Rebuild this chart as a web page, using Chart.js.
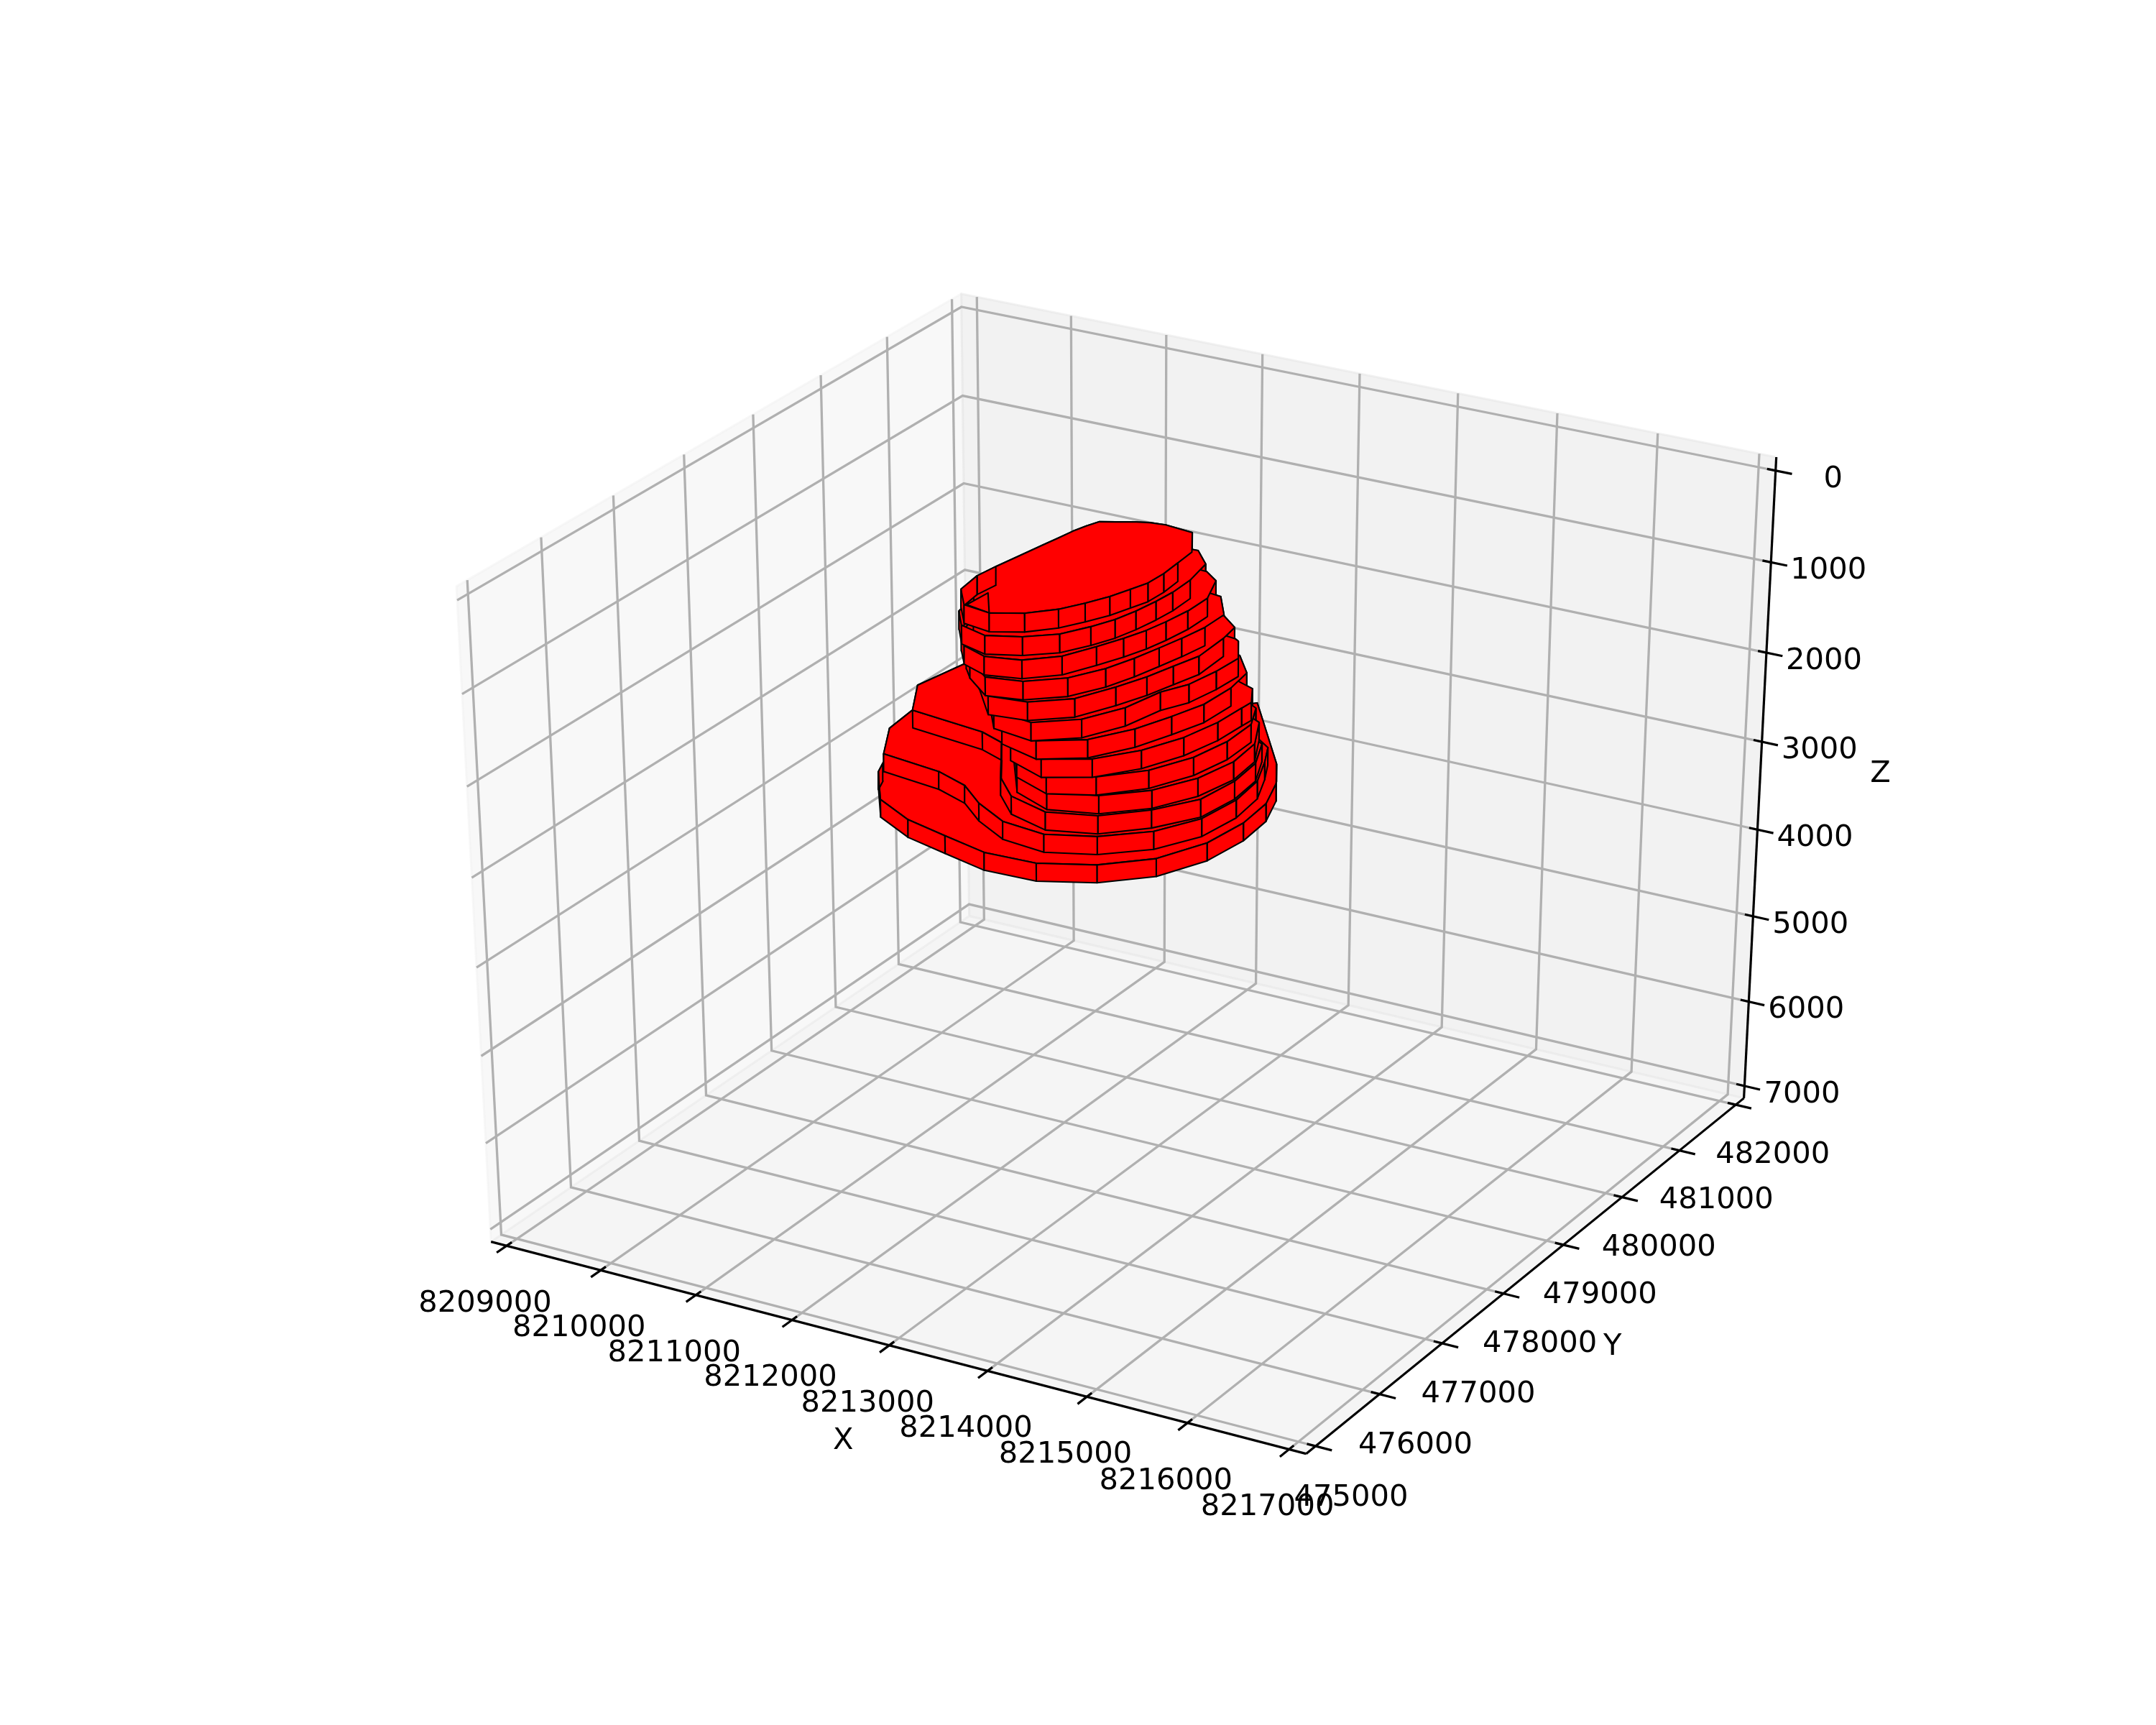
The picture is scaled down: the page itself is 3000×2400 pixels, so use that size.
<!DOCTYPE html>
<html>
<head>
<meta charset="utf-8">
<script src="https://cdn.jsdelivr.net/npm/chart.js@4"></script>
<style>html,body{margin:0;padding:0;background:#fff}canvas{display:block}</style>
</head>
<body>
<canvas id="c" width="3000" height="2400"></canvas>
<script>
var xTicks=[8209000,8210000,8211000,8212000,8213000,8214000,8215000,8216000,8217000];
var yTicks=[476000,477000,478000,479000,480000,481000,482000,483000];
var zTicks=[0,1000,2000,3000,4000,5000,6000,7000];
var xLabels=[8209000,8210000,8211000,8212000,8213000,8214000,8215000,8216000,8217000];
var yLabels=[475000,476000,477000,478000,479000,480000,481000,482000];
var zLabels=[0,1000,2000,3000,4000,5000,6000,7000];
var xLim=[8209000,8217000],yLim=[476000,483000],zLim=[7000,0];

// one outline per level, top of the level in ringTopZ
var ringTopZ=[1000,1250,1500,1750,2000,2250,2500,2750,3000,3250,3500,3750,4000];
var ringHeight=205;
var ring01X=[8211790,8212060,8212270,8212400,8212510,8212580,8212640,8212650,8212630,8212610,8212380,8212080,8211930,8211790,8211660,8211530,8211480,8211440,8211410,8211380,8211330,8211280,8211250,8211290,8211500];
var ring01Y=[479220,479350,479550,479760,479970,480180,480360,480590,480840,481090,481450,481490,481470,481420,481350,481290,481160,481010,480820,480650,480360,480070,479830,479530,479270];
var ring02X=[8211450,8211750,8212050,8212300,8212450,8212550,8212610,8212650,8212670,8212660,8212590,8212370,8212070,8211770,8211510,8211410,8211360,8211240,8211200,8211260];
var ring02Y=[479300,479210,479330,479520,479770,479990,480220,480470,480700,480990,481340,481560,481550,481450,481320,481040,480680,480130,479850,479540];
var ring03X=[8211440,8211720,8212050,8212310,8212460,8212570,8212650,8212700,8212740,8212740,8212600,8212420,8212110,8211780,8211500,8211390,8211330,8211220,8211180,8211260];
var ring03Y=[479350,479240,479320,479540,479840,480090,480320,480550,480830,481140,481490,481620,481650,481480,481340,481050,480690,480150,479870,479570];
var ring04X=[8211380,8211700,8212040,8212340,8212520,8212620,8212690,8212750,8212800,8212800,8212560,8212430,8212100,8211770,8211490,8211380,8211320,8211230,8211200,8211240];
var ring04Y=[479520,479280,479350,479580,479890,480180,480460,480720,481010,481310,481630,481650,481660,481490,481350,481070,480710,480180,479900,479670];
var ring05X=[8211310,8211680,8212050,8212370,8212550,8212670,8212750,8212830,8212810,8212770,8212550,8212180,8211760,8211510,8211390,8211320,8211230,8211190];
var ring05Y=[479760,479350,479400,479640,480000,480300,480590,480870,481290,481530,481700,481660,481510,481320,481050,480710,480290,480010];
var ring06X=[8211430,8211620,8212050,8212400,8212600,8212690,8212820,8212880,8212900,8212700,8212650,8212160,8211750,8211440,8211330,8211270,8211230,8211270];
var ring06Y=[479760,479520,479450,479700,480070,480480,480730,481070,481390,481700,481730,481810,481640,481410,481130,480790,480390,480070];
var ring07X=[8211600,8212040,8212420,8212660,8212800,8212910,8212930,8212880,8212620,8212170,8211750,8211430,8211280,8211230,8211230,8211420];
var ring07Y=[479670,479540,479760,480130,480490,480830,481230,481560,481850,481910,481740,481540,481210,480840,480490,479990];
var ring08X=[8211600,8212030,8212420,8212700,8212880,8212970,8212990,8213000,8212850,8212220,8211780,8211480,8211330,8211280,8211320,8211470];
var ring08Y=[479800,479630,479830,480170,480560,480960,481310,481450,481700,481950,481820,481580,481240,480870,480470,480030];
var ring09X=[8211580,8212000,8212400,8212730,8212930,8213010,8213000,8212850,8212290,8211820,8211490,8211340,8211290,8211330,8211470];
var ring09Y=[479920,479750,479920,480240,480640,481050,481450,481760,482080,481880,481680,481340,480970,480570,480140];
var ring10X=[8211100,8211500,8211930,8212380,8212730,8212950,8213040,8213000,8212790,8212270,8211840,8211500,8211350,8211290,8211340];
var ring10Y=[480580,480040,479860,479990,480290,480680,481110,481510,481910,482170,481950,481780,481440,481070,480670];
var ring11X=[8211450,8211900,8212350,8212700,8212960,8213020,8212980,8212810,8212300,8211730,8211060,8210330,8209720,8209480,8209370,8209640,8210460,8210740,8211150];
var ring11Y=[480020,479880,480020,480330,480710,481160,481560,481930,482190,482250,482340,482510,482730,482200,481610,481140,481030,480920,480300];
var ring12X=[8211420,8211890,8212330,8212710,8212940,8213000,8212950,8212790,8212650,8212060,8211700,8211340,8211030,8210710,8210390,8210070,8209790,8209560,8209440,8209380,8209380,8209370,8209410,8209680,8210330,8210700,8211020];
var ring12Y=[479930,479870,480040,480350,480760,481220,481640,482010,482280,482680,482760,482840,482850,482870,482890,482900,482850,482730,482500,482200,481850,481510,481110,480630,480540,480400,480150];
var ring13X=[8209940,8210400,8210880,8211380,8211910,8212400,8212790,8213010,8213070,8213030,8212880,8212660,8212050,8211790,8211560,8211190,8210850,8210480,8210180,8209800,8209600,8209410,8209320,8209330,8209520,8209590];
var ring13Y=[480200,479960,479830,479700,479720,479930,480270,480740,481230,481660,482060,482410,483140,483450,483210,483200,483120,483100,482960,482940,482660,482480,482160,481470,480840,480670];
var notchX=[8211520,8211540,8211790];
var notchY=[479280,479570,479220];
var ringX=[ring01X,ring02X,ring03X,ring04X,ring05X,ring06X,ring07X,ring08X,ring09X,ring10X,ring11X,ring12X,ring13X];
var ringY=[ring01Y,ring02Y,ring03Y,ring04Y,ring05Y,ring06Y,ring07Y,ring08Y,ring09Y,ring10Y,ring11Y,ring12Y,ring13Y];

// view of elev 30, azim -60, distance 10
var sx=[.866025,.5,0],sy=[-.25,.433013,.866025],sn=[.433013,-.75,.5];
function project(x,y,z){
  var a=(x-xLim[0])/(xLim[1]-xLim[0])-.5,b=(y-yLim[0])/(yLim[1]-yLim[0])-.5,c=(z-zLim[0])/(zLim[1]-zLim[0])-.5;
  var w=10-(sn[0]*a+sn[1]*b+sn[2]*c);
  return {x:(sx[0]*a+sx[1]*b)/w,y:(sy[0]*a+sy[1]*b+sy[2]*c)/w,w:w};
}

var xR=xLim[1]-xLim[0],yR=yLim[1]-yLim[0],zR=zLim[1]-zLim[0];
var xLo=xLim[0]-xR/48,xHi=xLim[1]+xR/48,yLo=yLim[0]-yR/48,yHi=yLim[1]+yR/48,zLo=zLim[0]-zR/48,zHi=zLim[1]+zR/48;

var layers=[];
function pts(list){return list.map(function(p){var q=project(p[0],p[1],p[2]);return {x:q.x,y:q.y};});}
function addLine(list,color,width){
  layers.push({data:pts(list),showLine:true,borderColor:color,borderWidth:width,pointRadius:0,fill:false,borderCapStyle:'butt',borderJoinStyle:'miter'});
}
function addFace(list,fillColor,edgeColor,width){
  layers.push({data:pts(list.concat([list[0]])),showLine:true,borderColor:edgeColor,borderWidth:width,backgroundColor:fillColor,pointRadius:0,fill:'shape',borderJoinStyle:'round'});
}
// panes
addFace([[xLo,yLo,zLo],[xLo,yHi,zLo],[xLo,yHi,zHi],[xLo,yLo,zHi]],'rgba(242,242,242,.5)','rgba(242,242,242,.5)',3);
addFace([[xLo,yHi,zLo],[xHi,yHi,zLo],[xHi,yHi,zHi],[xLo,yHi,zHi]],'rgba(230,230,230,.5)','rgba(230,230,230,.5)',3);
addFace([[xLo,yLo,zLo],[xHi,yLo,zLo],[xHi,yHi,zLo],[xLo,yHi,zLo]],'rgba(236,236,236,.5)','rgba(236,236,236,.5)',3);
// grid
var gridColor='#b0b0b0',gridW=3.3;
xTicks.forEach(function(t){addLine([[t,yLo,zLo],[t,yHi,zLo],[t,yHi,zHi]],gridColor,gridW);});
yTicks.forEach(function(t){addLine([[xHi,t,zLo],[xLo,t,zLo],[xLo,t,zHi]],gridColor,gridW);});
zTicks.forEach(function(t){addLine([[xLo,yLo,t],[xLo,yHi,t],[xHi,yHi,t]],gridColor,gridW);});
// axis lines and ticks
addLine([[xLo,yLo,zLo],[xHi,yLo,zLo]],'#000',3.2);
addLine([[xHi,yLo,zLo],[xHi,yHi,zLo]],'#000',3.2);
addLine([[xHi,yHi,zLo],[xHi,yHi,zHi]],'#000',3.2);
xTicks.forEach(function(t){addLine([[t,yLo-.02*yR,zLo],[t,yLo+.0105*yR,zLo]],'#000',3.2);});
yTicks.forEach(function(t){addLine([[xHi-.0105*xR,t,zLo],[xHi+.02*xR,t,zLo]],'#000',3.2);});
zTicks.forEach(function(t){addLine([[xHi-.0105*xR,yHi,t],[xHi+.02*xR,yHi,t]],'#000',3.2);});
// body faces, far to near by mean depth
var faces=[];
function pushFace(list){
  var s=0;list.forEach(function(p){s+=project(p[0],p[1],p[2]).w;});
  faces.push({list:list,depth:s/list.length});
}
ringX.forEach(function(xs,i){
  var ys=ringY[i],top=ringTopZ[i],bot=top+ringHeight,poly=[];
  xs.forEach(function(x,j){
    poly.push([x,ys[j],top]);
    var k=(j+1)%xs.length;
    pushFace([[x,ys[j],top],[xs[k],ys[k],top],[xs[k],ys[k],bot],[x,ys[j],bot]]);
  });
  pushFace(poly);
});
pushFace(notchX.map(function(x,j){return [x,notchY[j],ringTopZ[0]];}));
faces.sort(function(a,b){return b.depth-a.depth;});
faces.forEach(function(f){addFace(f.list,'#ff0000','#000',2.1);});

// tick labels and axis names sit on the projected axes
var labelPlugin={id:'labels3d',afterDraw:function(chart){
  var ctx=chart.ctx,sxs=chart.scales.x,sys=chart.scales.y;
  function put(p,dx,dy,text){ctx.fillText(text,sxs.getPixelForValue(p.x)+dx,sys.getPixelForValue(p.y)+dy);}
  ctx.save();
  ctx.font='41.67px "DejaVu Sans"';ctx.fillStyle='#000';ctx.textAlign='center';ctx.textBaseline='middle';
  xLabels.forEach(function(t){put(project(t,yLo,zLo),-30,81,String(t));});
  yLabels.forEach(function(t){var f=(t-yLim[0])/6000;put(project(xHi+.1225*xR,t,zLo+.041*zR),-2-4*f,-2+10*f,String(t));});
  zLabels.forEach(function(t){put(project(xHi,yHi,t),80,12,String(t));});
  put(project((xLim[0]+xLim[1])/2,yLo,zLo),-64,133,'X');
  put(project(xHi,(yLim[0]+yLim[1])/2,zLo),110,109,'Y');
  put(project(xHi,yHi,(zLim[0]+zLim[1])/2),168,-16,'Z');
  ctx.restore();
}};

new Chart(document.getElementById('c').getContext('2d'),{
  type:'scatter',
  data:{datasets:layers.slice().reverse()},
  options:{
    responsive:false,devicePixelRatio:1,animation:false,
    layout:{padding:{left:375,right:300,top:288,bottom:264}},
    scales:{x:{type:'linear',min:-.095,max:.09,display:false},y:{type:'linear',min:-.095,max:.09,display:false}},
    plugins:{legend:{display:false},tooltip:{enabled:false}},
    elements:{line:{tension:0}}
  },
  plugins:[labelPlugin]
});
</script>
</body>
</html>
